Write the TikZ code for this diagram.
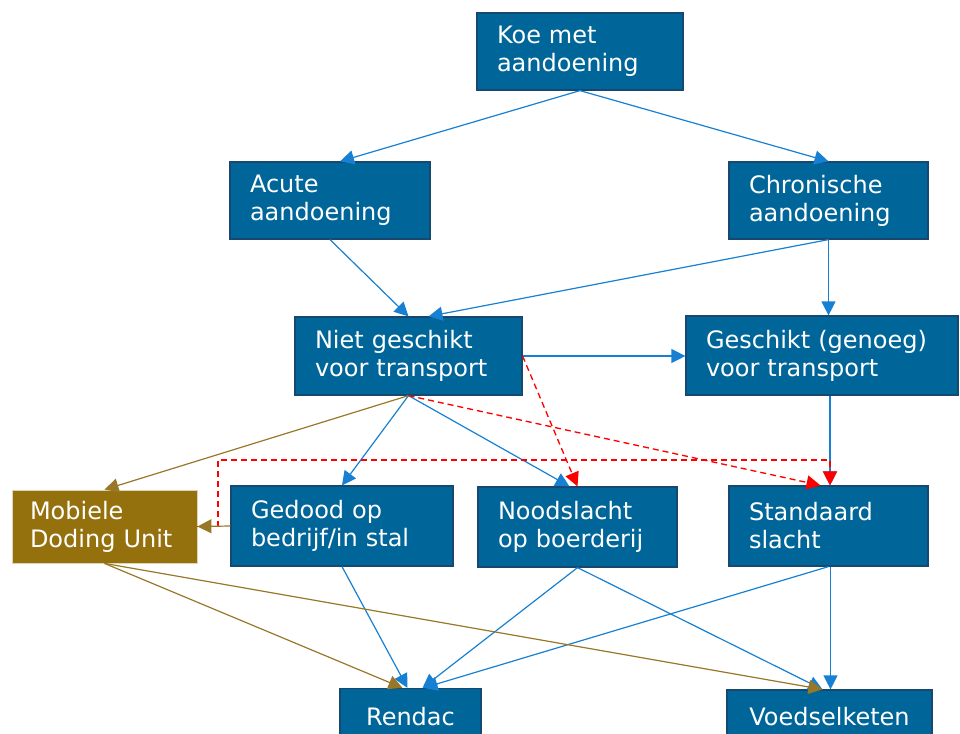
\documentclass[tikz,border=0pt]{standalone}
\usepackage{fontspec}
\setmainfont{DejaVu Sans}
\usetikzlibrary{arrows.meta,calc}
\definecolor{boxfill}{RGB}{0,102,153}
\definecolor{boxline}{RGB}{22,72,112}
\definecolor{brownfill}{RGB}{149,113,14}
\definecolor{brownline}{RGB}{152,120,40}
\definecolor{blueline}{RGB}{24,128,210}
\definecolor{redline}{RGB}{255,0,0}
\tikzset{
  box/.style={draw=boxline, line width=0.9pt, fill=boxfill, text=white,
    font=\fontsize{18pt}{21pt}\selectfont, align=left, inner xsep=15pt, inner ysep=0pt},
  cbox/.style={box, align=center, inner xsep=0pt},
  mdu/.style={box, fill=brownfill, draw=brownfill!30!white, line width=0.6pt, inner xsep=13.5pt},
  tip/.style={-{Triangle[length=10.5pt,width=10.5pt]}},
  bl/.style={tip, color=blueline, line width=0.9pt},
  br/.style={tip, color=brownline, line width=0.9pt},
  rd/.style={tip, color=redline, line width=1pt, dash pattern=on 4.5pt off 3pt},
}
\begin{document}
\begin{tikzpicture}[x=0.75pt,y=-0.75pt]
\useasboundingbox (0,0) rectangle (960,733);
\begin{scope}
\clip (0,0) rectangle (960,733);
\node[box, text width=124.5pt, minimum height=57.75pt] (koe) at (580,51.5) {Koe met\\aandoening};
\node[box, text width=120pt, minimum height=57.75pt] (acute) at (330,200.5) {Acute\\aandoening};
\node[box, text width=119.25pt, minimum height=57.75pt] (chron) at (828.5,200.5) {Chronische\\aandoening};
\node[box, text width=140.25pt, minimum height=58.5pt] (niet) at (408.5,356) {Niet geschikt\\voor transport};
\node[box, text width=174pt, minimum height=59.25pt] (gesch) at (822,355.5) {Geschikt (genoeg)\\voor transport};
\node[mdu, text width=111.75pt, minimum height=54.75pt] (mob) at (104.5,526.5) {Mobiele\\Doding Unit};
\node[box, text width=136.5pt, minimum height=60pt] (gedood) at (342,526) {Gedood op\\bedrijf/in stal};
\node[box, text width=119.25pt, minimum height=60pt] (nood) at (577.5,527) {Noodslacht\\op boerderij};
\node[box, text width=119.25pt, minimum height=60pt] (stand) at (828.5,526) {Standaard\\slacht};
\node[cbox, minimum width=105.75pt, minimum height=42pt] (rendac) at (410.5,716.5) {Rendac};
\node[cbox, minimum width=153.75pt, minimum height=40.5pt] (voed) at (829.5,717) {Voedselketen};

% upper blue connectors
\draw[bl] (koe.south) -- ($(acute.north)+(10,0)$);
\draw[bl] (koe.south) -- (chron.north);
\draw[bl] (acute.south) -- (niet.north);
\draw[bl] (chron.south) -- ($(niet.north)+(20,0)$);
\draw[bl] (chron.south) -- (chron.south |- gesch.north);
\draw[bl] (niet.east) -- (niet.east -| gesch.west);
\draw[bl] (niet.south) -- (gedood.north);
\draw[bl] (niet.south) -- ($(nood.north)+(-8,0)$);
\draw[bl] ($(stand.north |- gesch.south)+(1.5,0)$) -- ($(stand.north)+(1.5,0)$);

% brown connectors
\draw[br] (niet.south) -- (mob.north);
% red dashed elbow
\coordinate (elbowA) at ($(mob.east)+(20.5,0)$);
\coordinate (elbowB) at ($(stand.north)+(1.5,-25.5)$);
\draw[rd] (mob.east) -- (elbowA) |- (elbowB) -- ($(stand.north)+(1.5,0)$);
\draw[br] (gedood.west) -- (mob.east);

% red dashed connectors
\draw[rd] (niet.east) -- (nood.north);
\draw[rd] (niet.south) -- ($(stand.north)+(-8,0)$);

% lower connectors
\draw[bl] (gedood.south) -- ($(rendac.north)+(-3,0)$);
\draw[bl] (nood.south) -- ($(rendac.north)+(12,0)$);
\draw[bl] (nood.south) -- ($(voed.north)+(-7,0)$);
\draw[bl] (stand.south) -- ($(rendac.north)+(13,0)$);
\draw[bl] ($(stand.south)+(2,0)$) -- ($(voed.north)+(1,0)$);
\draw[br] (mob.south) -- ($(rendac.north)+(-8,0)$);
\draw[br] (mob.south) -- ($(voed.north)+(-7,0)$);
\end{scope}
\end{tikzpicture}
\end{document}
